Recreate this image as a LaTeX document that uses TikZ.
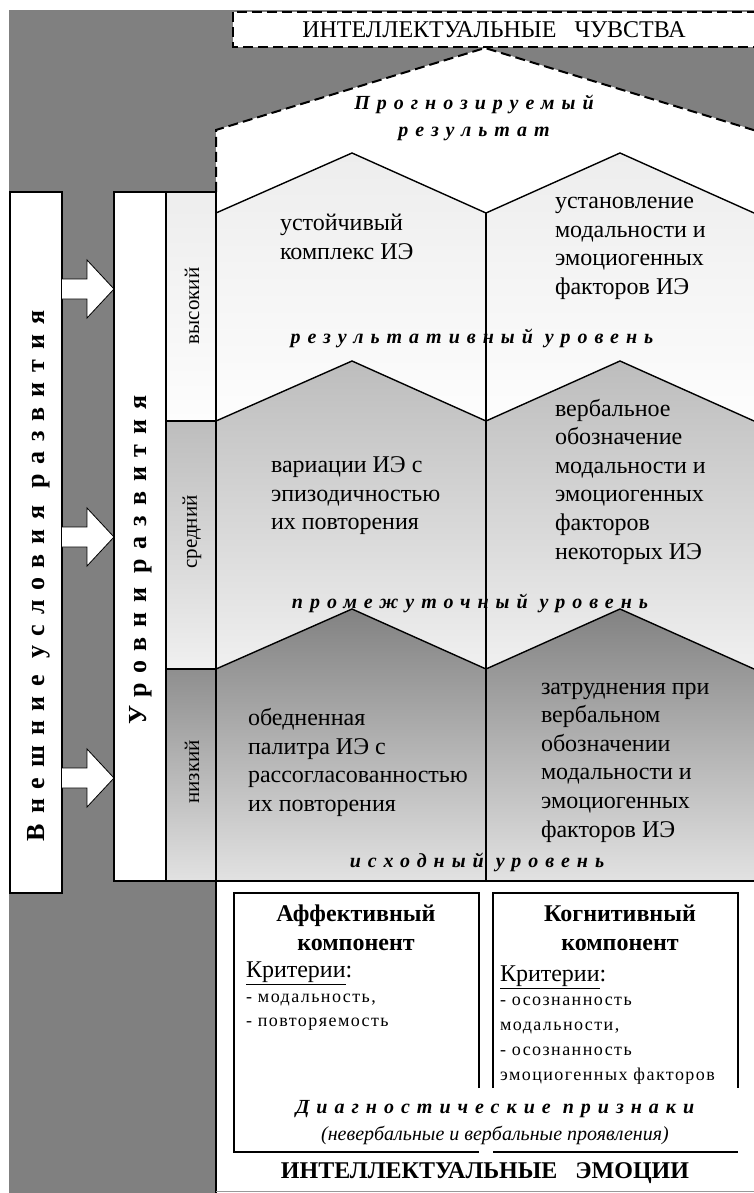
\documentclass[tikz,border=0pt]{standalone}
\usepackage{fontspec}
\setmainfont{Liberation Serif}
\newfontfamily\extfont[LetterSpace=38]{Liberation Serif}
\newfontfamily\stagefont[LetterSpace=35]{Liberation Serif}
\newfontfamily\critfont[LetterSpace=8]{Liberation Serif}
\usepackage{tikz}
\pgfdeclarelayer{bg}
\pgfsetlayers{bg,main}
\definecolor{backgray}{HTML}{808080}
\definecolor{hitop}{HTML}{EDEDED}
\definecolor{hibot}{HTML}{FDFDFD}
\definecolor{midtop}{HTML}{BDBDBD}
\definecolor{midbot}{HTML}{F0F0F0}
\definecolor{lowtop}{HTML}{828282}
\definecolor{lowbot}{HTML}{E2E2E2}
\tikzset{
    every node/.style={inner sep=0pt, outer sep=0pt}
}
\tikzset{
    bodytext/.style={anchor=west, align=left, font=\fontsize{24}{28.6}\selectfont},
    headtext/.style={align=center, font=\fontsize{24}{29}\selectfont\bfseries},
    stagetext/.style={font=\fontsize{20}{27}\selectfont\stagefont\bfseries\itshape},
    celltext/.style={rotate=90, font=\fontsize{21}{21}\selectfont},
    sidetext/.style={rotate=90, font=\fontsize{26}{26}\selectfont\extfont\bfseries},
    crittext/.style={anchor=west, align=left, font=\fontsize{18}{24.5}\selectfont\critfont},
    dashline/.style={line width=2pt, dash pattern=on 10pt off 5pt},
    roof/.style={line width=1.4pt},
    boxline/.style={line width=2pt},
    thinbox/.style={line width=1.1pt},
    flowarrow/.style={draw, fill=white, line width=0.8pt}
}

\begin{document}
\begin{tikzpicture}[x=1pt, y=-1pt]
    \useasboundingbox (0,0) rectangle (754,1193);
    \begin{pgfonlayer}{bg}
        \fill[backgray] (9,10) rectangle (754,1193);
        \fill[white] (216,213) -- (216,130) -- (485,48) -- (754,130) -- (754,213) -- cycle;
        \fill[white] (216,881) rectangle (754,1193);
    \end{pgfonlayer}

    % intellectual feelings and forecast
    \draw[dashline, fill=white] (233,12) rectangle (790,47);
    \node (feel) at (494,30) [font=\fontsize{24}{24}\selectfont] {ИНТЕЛЛЕКТУАЛЬНЫЕ\hspace{18pt}ЧУВСТВА};
    \draw[dashline] (216,192) -- (216,130) -- (485,48) -- (760,132);
    \node (forecast) at (474,118) [stagetext, align=center] {Прогнозируемый\\результат};

    % bands of levels
    \shade[top color=hitop, bottom color=hibot] (216,213) -- (352,153) -- (486,213) -- (620,153) -- (754,213)
        -- (754,421) -- (620,361) -- (486,421) -- (352,361) -- (216,421) -- cycle;
    \shade[top color=midtop, bottom color=midbot] (216,421) -- (352,361) -- (486,421) -- (620,361) -- (754,421)
        -- (754,669) -- (620,609) -- (486,669) -- (352,609) -- (216,669) -- cycle;
    \shade[top color=lowtop, bottom color=lowbot] (216,669) -- (352,609) -- (486,669) -- (620,609) -- (754,669)
        -- (754,881) -- (216,881) -- cycle;
    \foreach \s in {213,421,669}
        \draw[roof] (216,\s) -- (352,{\s-60}) -- (486,\s) -- (620,{\s-60}) -- (754,\s);
    \draw[roof] (486,213) -- (486,881);
    \draw[boxline] (216,881) -- (754,881);

    \node (hiL) at (280,237) [bodytext] {устойчивый\\комплекс ИЭ};
    \node (hiR) at (555,248.5) [bodytext] {установление\\модальности и\\эмоциогенных\\факторов ИЭ};
    \node (hiStage) at (472,338) [stagetext] {результативный уровень};

    \node (midL) at (271,496) [bodytext] {вариации ИЭ с\\эпизодичностью\\их повторения};
    \node (midR) at (555,481.5) [bodytext] {вербальное\\обозначение\\модальности и\\эмоциогенных\\факторов\\некоторых ИЭ};
    \node (midStage) at (470,603) [stagetext] {промежуточный уровень};

    \node (lowL) at (248,762.5) [bodytext] {обедненная\\палитра ИЭ с\\рассогласованностью\\их повторения};
    \node (lowR) at (541,762.5) [bodytext] {затруднения при\\вербальном\\обозначении\\модальности и\\эмоциогенных\\факторов ИЭ};
    \node (lowStage) at (477,862) [stagetext] {исходный уровень};

    % outer conditions and levels
    \draw[boxline, fill=white] (10,192) rectangle (62,893);
    \draw[boxline, fill=white] (114,192) rectangle (216,881);
    \shade[top color=hitop, bottom color=hibot] (166,192) rectangle (216,421);
    \shade[top color=midtop, bottom color=midbot] (166,421) rectangle (216,669);
    \shade[top color=lowtop!90!white, bottom color=lowbot] (166,669) rectangle (216,881);
    \draw[boxline] (166,192) -- (166,881);
    \draw[boxline] (166,421) -- (216,421);
    \draw[boxline] (166,669) -- (216,669);
    \draw[boxline] (114,192) rectangle (216,881);
    \draw[boxline] (216,192) -- (216,1193);

    \node (ext) at (39,576) [sidetext] {Внешние условия развития};
    \node (lev) at (141,560) [sidetext] {Уровни\hspace{14pt}развития};
    \node (cellHi) at (192,306) [celltext] {высокий};
    \node (cellMid) at (192,532) [celltext] {средний};
    \node (cellLow) at (192,772) [celltext] {низкий};

    \foreach \y in {289,537,778}
        \draw[flowarrow] (62,{\y-10}) -- (87,{\y-10}) -- (87,{\y-29}) -- (114,\y) -- (87,{\y+29}) -- (87,{\y+10}) -- (62,{\y+10});

    % components
    \draw[thinbox] (479,1088) -- (479,893) -- (234,893) -- (234,1152) -- (479,1152);
    \draw[thinbox] (493,1088) -- (493,893) -- (738,893) -- (738,1088);
    \draw[thinbox] (493,1152) -- (738,1152);
    \draw[line width=0.8pt, black!40] (216,1191) -- (754,1191);

    \node (affHead) at (356,927.5) [headtext] {Аффективный\\компонент};
    \node (affCrit) at (246,973) [bodytext] {\underline{Критерии}:};
    \node (affList) at (246,1012) [crittext] {- модальность,\\- повторяемость};

    \node (cogHead) at (620,927.5) [headtext] {Когнитивный\\компонент};
    \node (cogCrit) at (500,977) [bodytext] {\underline{Критерии}:};
    \node (cogList) at (500,1040.5) [crittext, font=\fontsize{18}{25}\selectfont\critfont] {- осознанность\\модальности,\\- осознанность\\эмоциогенных факторов};

    \node (diag) at (495,1109) [stagetext] {Диагностические\hspace{12pt}признаки};
    \node (diagNote) at (495,1135) [font=\fontsize{20}{20}\selectfont\itshape] {(невербальные и вербальные проявления)};
    \node (emo) at (485,1173) [font=\fontsize{24}{24}\selectfont\bfseries] {ИНТЕЛЛЕКТУАЛЬНЫЕ\hspace{18pt}ЭМОЦИИ};
\end{tikzpicture}
\end{document}
